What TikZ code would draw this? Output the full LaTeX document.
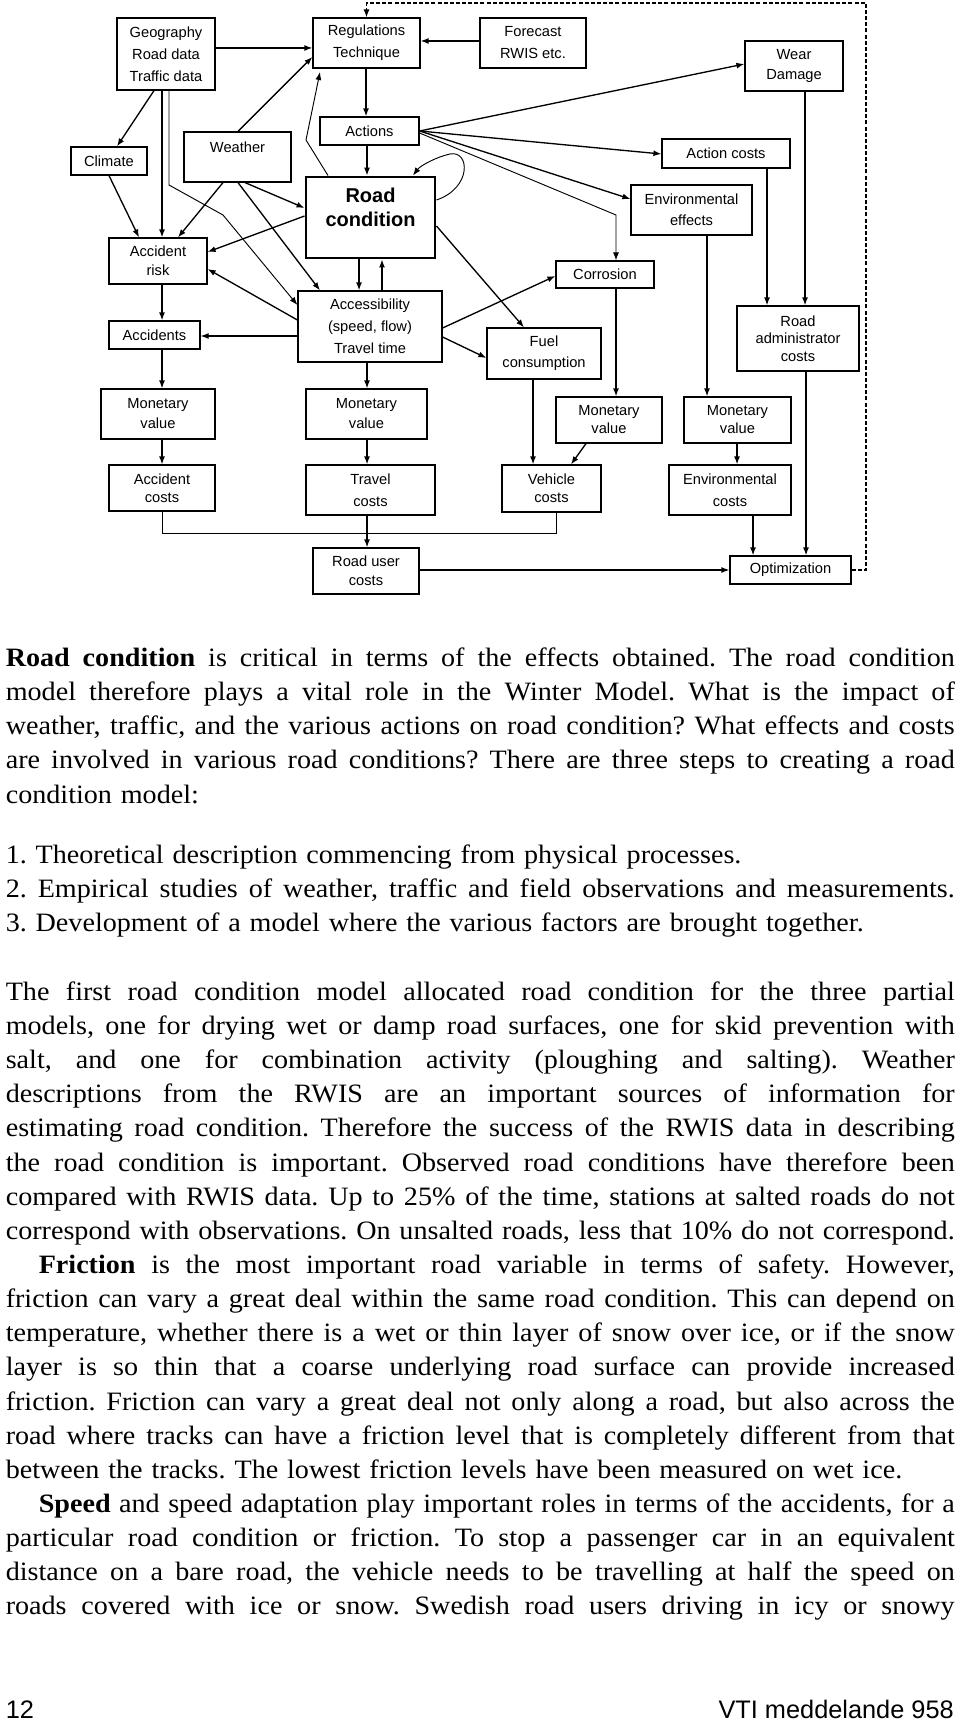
\documentclass[tikz,border=0pt]{standalone}
\usepackage{fontspec}
\newfontfamily\dfont{Liberation Sans}
\newfontfamily\bodyfont{Liberation Serif}[FakeStretch=1.06]
\usetikzlibrary{arrows.meta,fit}
\newcommand\jline[1]{\leavevmode{\spaceskip=0.25em plus 1em minus 0.1em\relax\hbox to 711.75pt{#1}}}
\newcommand\bx[7][15]{\node[box, fit={(#3,#4) (#5,#6)}] (#2) {};
  \node[lbl, font=\dfont\fontsize{11}{#1}\selectfont] (#2-t) at (#2.center) {#7};}
\begin{document}
\frenchspacing
\begin{tikzpicture}[x=0.75pt,y=-0.75pt,
  box/.style={draw, line width=0.9pt, inner sep=0pt},
  arr/.style={-{Latex[length=6pt,width=4.5pt]}, line width=1pt},
  tarr/.style={-{Latex[length=6pt,width=4.5pt]}, line width=0.7pt},
  ln/.style={line width=0.7pt},
  dsh/.style={line width=0.8pt, dash pattern=on 3pt off 1.6pt},
  lbl/.style={font=\dfont\fontsize{11}{15}\selectfont, align=center, inner sep=0pt},
  body/.style={anchor=base west, inner sep=0pt, text width=711.75pt, font=\bodyfont\fontsize{19.9}{25.6}\selectfont}]
\path[use as bounding box, fill=white] (0,0) rectangle (960,1722);

% ---------- boxes ----------
\bx[16.5]{geo}{117}{18}{215}{90}{Geography\\Road data\\Traffic data}
\bx[16.5]{regul}{313}{18}{420}{68}{Regulations\\Technique}
\bx[16.5]{fore}{480}{18}{586}{68}{Forecast\\RWIS etc.}
\bx{wear}{745}{41}{843}{91}{Wear\\Damage}
\bx{climate}{71}{147}{147}{175}{Climate}
\node[box, fit={(184,132) (291,182)}] (weather) {};
\node[lbl] (weather-t) at (237.5,147) {Weather};
\bx{actions}{320}{117}{419}{145}{Actions}
\bx{acost}{662}{139}{790}{168}{Action costs}
\node[box, line width=2.2pt, fit={(306,177) (435,258)}] (rc) {};
\node[font=\dfont\bfseries\fontsize{15}{18}\selectfont, align=center, inner sep=0pt] (rc-t) at (370.5,207.4) {Road\\condition};
\bx[16]{enveff}{631}{185}{752}{235}{Environmental\\effects}
\bx{corr}{556}{261}{654}{288}{Corrosion}
\bx[14.5]{accrisk}{109}{238}{207}{284}{Accident\\risk}
\bx[16.5]{access}{298}{291}{442}{362}{Accessibility\\(speed, flow)\\Travel time}
\bx[16]{fuel}{487}{328}{601}{379}{Fuel\\consumption}
\bx{accidents}{109}{321}{200}{349}{Accidents}
\bx[13]{radmin}{737}{306}{859}{371}{Road\\administrator\\costs}
\bx{mon1}{101}{389}{215}{439}{Monetary\\value}
\bx{mon2}{306}{389}{427}{439}{Monetary\\value}
\bx[13.5]{mon3}{556}{397}{662}{443}{Monetary\\value}
\bx[13.5]{mon4}{684}{397}{791}{443}{Monetary\\value}
\bx[13.5]{acccost}{109}{465}{215}{511}{Accident\\costs}
\bx[16.5]{travel}{306}{465}{435}{515}{Travel\\costs}
\bx[13.5]{vehicle}{502}{465}{601}{512}{Vehicle\\costs}
\bx[16.5]{envcost}{669}{465}{791}{515}{Environmental\\costs}
\bx[14]{roaduser}{313}{548}{419}{594}{Road user\\costs}
\bx{opt}{730}{556}{851}{584}{Optimization}

% ---------- connectors ----------
\draw[arr] (geo.east |- 0,48) -- (regul.west |- 0,48);
\draw[arr] (fore.west |- 0,41) -- (regul.east |- 0,41);
\draw[dsh, arr, line width=0.8pt] (opt.east) -| (866,3) -| (regul.north);
\draw[arr] (366,0 |- regul.south) -- (366,0 |- actions.north);
\draw[arr] (367,0 |- actions.south) -- (367,0 |- rc.north);
\draw[arr] (actions.east |- 0,131) -- (wear.west |- 0,64);
\draw[arr] (actions.east |- 0,131) -- (acost.west |- 0,154);
\draw[arr] (actions.east |- 0,131) -- (enveff.west |- 0,199);
\draw[tarr] (actions.east |- 0,133) -- (616,215) -- (616,0 |- corr.north);
\draw[tarr] (328,0 |- rc.north) -- (306,140) -- (320,72);
\draw[tarr] (rc.east |- 0,200) .. controls (472,188) and (470,150) .. (450,154) .. controls (436,157) and (420,166) .. (413,0 |- rc.north);
\draw[arr] (154,0 |- geo.south) -- (117,0 |- climate.north);
\draw[arr] (162,0 |- geo.south) -- (162,0 |- accrisk.north);
\draw[tarr] (169,0 |- geo.south) -- (169,185) -- (223,215) -- (access.west |- 0,305);
\draw[arr] (109,0 |- climate.south) -- (139,0 |- accrisk.north);
\draw[arr] (238,0 |- weather.north) -- (regul.west |- 0,57);
\draw[arr] (223,0 |- weather.south) -- (178,0 |- accrisk.north);
\draw[arr] (238,0 |- weather.south) -- (320,0 |- access.north);
\draw[arr] (245,0 |- weather.south) -- (rc.west |- 0,208);
\draw[arr] (rc.west |- 0,216) -- (accrisk.east |- 0,252);
\draw[arr] (access.west |- 0,320) -- (accrisk.east |- 0,269);
\draw[arr] (access.west |- 0,336) -- (accidents.east |- 0,336);
\draw[arr] (162,0 |- accrisk.south) -- (162,0 |- accidents.north);
\draw[arr] (359,0 |- rc.south) -- (359,0 |- access.north);
\draw[arr] (382,0 |- access.north) -- (382,0 |- rc.south);
\draw[arr] (rc.east |- 0,226) -- (524,0 |- fuel.north);
\draw[arr] (access.east |- 0,328) -- (corr.west |- 0,276);
\draw[arr] (access.east |- 0,337) -- (fuel.west |- 0,358);
\draw[arr] (162,0 |- accidents.south) -- (162,0 |- mon1.north);
\draw[arr] (367,0 |- access.south) -- (367,0 |- mon2.north);
\draw[arr] (162,0 |- mon1.south) -- (162,0 |- acccost.north);
\draw[arr] (367,0 |- mon2.south) -- (367,0 |- travel.north);
\draw[arr] (767,0 |- acost.south) -- (767,0 |- radmin.north);
\draw[arr] (805,0 |- wear.south) -- (805,0 |- radmin.north);
\draw[arr] (707,0 |- enveff.south) -- (707,0 |- mon4.north);
\draw[arr] (616,0 |- corr.south) -- (616,0 |- mon3.north);
\draw[arr] (533,0 |- fuel.south) -- (533,0 |- vehicle.north);
\draw[arr] (586,0 |- mon3.south) -- (571,0 |- vehicle.north);
\draw[arr] (737,0 |- mon4.south) -- (737,0 |- envcost.north);
\draw[arr] (753,0 |- envcost.south) -- (753,0 |- opt.north);
\draw[arr] (806,0 |- radmin.south) -- (806,0 |- opt.north);
\draw[ln] (162,0 |- acccost.south) |- (556,533) -- (556,0 |- vehicle.south);
\draw[arr] (367,0 |- travel.south) -- (367,0 |- roaduser.north);
\draw[arr] (roaduser.east |- opt.west) -- (opt.west);

% ---------- body text ----------
\node[body] (para1) at (5.5,666.5) {%
\jline{\textbf{Road condition} is critical in terms of the effects obtained. The road condition}\\
\jline{model therefore plays a vital role in the Winter Model. What is the impact of}\\
\jline{weather, traffic, and the various actions on road condition? What effects and costs}\\
\jline{are involved in various road conditions? There are three steps to creating a road}\\
condition model:};

\node[body] (list) at (5.5,863) {%
1. Theoretical description commencing from physical processes.\\
\jline{2. Empirical studies of weather, traffic and field observations and measurements.}\\
3. Development of a model where the various factors are brought together.};

\node[body] (para2) at (5.5,1000.4) {%
\jline{The first road condition model allocated road condition for the three partial}\\
\jline{models, one for drying wet or damp road surfaces, one for skid prevention with}\\
\jline{salt, and one for combination activity (ploughing and salting). Weather}\\
\jline{descriptions from the RWIS are an important sources of information for}\\
\jline{estimating road condition. Therefore the success of the RWIS data in describing}\\
\jline{the road condition is important. Observed road conditions have therefore been}\\
\jline{compared with RWIS data. Up to 25\% of the time, stations at salted roads do not}\\
\jline{correspond with observations. On unsalted roads, less that 10\% do not correspond.}\\
\jline{\hspace*{24.75pt}\textbf{Friction} is the most important road variable in terms of safety. However,}\\
\jline{friction can vary a great deal within the same road condition. This can depend on}\\
\jline{temperature, whether there is a wet or thin layer of snow over ice, or if the snow}\\
\jline{layer is so thin that a coarse underlying road surface can provide increased}\\
\jline{friction. Friction can vary a great deal not only along a road, but also across the}\\
\jline{road where tracks can have a friction level that is completely different from that}\\
between the tracks. The lowest friction levels have been measured on wet ice.\\
\jline{\hspace*{24.75pt}\textbf{Speed} and speed adaptation play important roles in terms of the accidents, for a}\\
\jline{particular road condition or friction. To stop a passenger car in an equivalent}\\
\jline{distance on a bare road, the vehicle needs to be travelling at half the speed on}\\
\jline{roads covered with ice or snow. Swedish road users driving in icy or snowy}};

% ---------- footer ----------
\node[anchor=base west, inner sep=0pt, font=\dfont\fontsize{19}{22}\selectfont] (pageno) at (5.5,1718) {12};
\node[anchor=base east, inner sep=0pt, font=\dfont\fontsize{19}{22}\selectfont] (series) at (954,1718) {VTI meddelande 958};
\end{tikzpicture}
\end{document}
